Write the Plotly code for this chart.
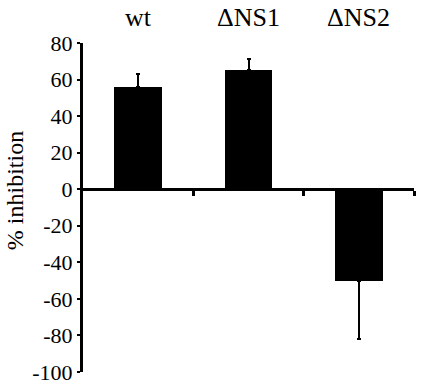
import plotly.graph_objects as go

categories = ["wt", "ΔNS1", "ΔNS2"]
values = [56, 65, -50]
errors = [7, 6.5, 32]
y_ticks = [-100, -80, -60, -40, -20, 0, 20, 40, 60, 80]
y_ticklabels = ["-100", "-80", "-60", "-40", "-20", "0", "20", "40", "60", "80"]
y_title = "% inhibition"

x_pos = list(range(len(categories)))
ymin, ymax = -100, 80

fig = go.Figure()
fig.add_trace(go.Bar(
    x=x_pos, y=values, width=0.43,
    marker=dict(color="black", line=dict(width=0)),
    error_y=dict(type="data", array=[e if v >= 0 else 0 for v, e in zip(values, errors)],
                 arrayminus=[e if v < 0 else 0 for v, e in zip(values, errors)],
                 symmetric=False, color="black", thickness=2, width=2),
    showlegend=False,
))

font = "Liberation Serif, Times New Roman, Times, serif"

for xp, c in zip(x_pos, categories):
    fig.add_annotation(x=xp, xref="x", y=1.0, yref="paper", yshift=26,
                       text=c, showarrow=False, yanchor="middle",
                       font=dict(family=font, size=26, color="black"))

fig.add_annotation(x=-0.205, xref="paper", y=0.55, yref="paper", text=y_title,
                   textangle=-90, showarrow=False, xanchor="center", yanchor="middle",
                   font=dict(family=font, size=24, color="black"))

fig.update_layout(
    width=422, height=385,
    margin=dict(l=83, r=8, t=43, b=13, autoexpand=False),
    paper_bgcolor="white", plot_bgcolor="white",
    font=dict(family=font, color="black"),
    bargap=0,
    xaxis=dict(range=[-0.5, 2.5], anchor="free", position=(0 - ymin) / (ymax - ymin),
               showline=True, linecolor="black", linewidth=3, automargin=False,
               tickvals=[0.5, 1.5, 2.5], ticks="outside", ticklen=5, tickwidth=3,
               tickcolor="black", showticklabels=False, showgrid=False, zeroline=False),
    yaxis=dict(range=[ymin, ymax], tickvals=y_ticks, ticktext=y_ticklabels,
               ticks="outside", ticklen=3, tickwidth=2, automargin=False,
               tickcolor="black", showline=True, linecolor="black", linewidth=3,
               showgrid=False, zeroline=False,
               tickfont=dict(family=font, size=22, color="black")),
)

post = (
    "document.body.style.margin='0';"
    "var gd=document.getElementById('{plot_id}');"
    "if(document.fonts&&document.fonts.load){"
    "document.fonts.load('22px \"Liberation Serif\"').then(function(){Plotly.redraw(gd);});}"
)

fig.write_html("out.html", config={"displayModeBar": False}, post_script=post)
